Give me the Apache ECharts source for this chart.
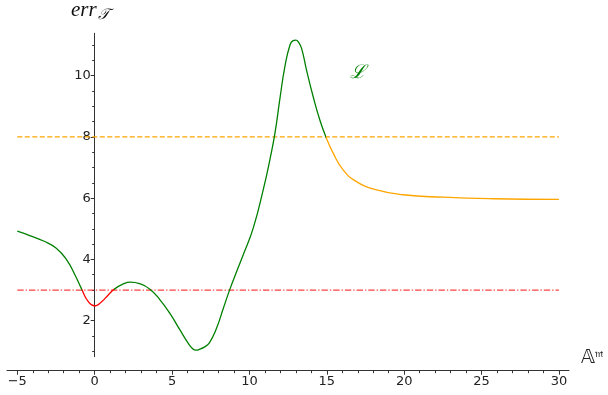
<!DOCTYPE html>
<html><head><meta charset="utf-8">
<script src="https://cdn.jsdelivr.net/npm/echarts@6/dist/echarts.min.js"></script>
<style>html,body{margin:0;padding:0;background:#fff}#c{width:608px;height:395px}</style>
</head><body><div id="c"></div>
<script>
// curve samples (x, err)
const curveX = [-5, -4.2, -3.3, -2.5, -1.8, -1.27, -0.84, -0.41, 0.0, 0.45, 0.88, 1.27, 1.85, 2.3, 2.9, 3.57, 4.22, 4.86, 5.51, 6.05, 6.3, 6.55, 6.8, 7.05, 7.4, 7.88, 8.31, 8.74, 9.17, 9.6, 10.25, 10.89, 11.32, 11.65, 11.97, 12.29, 12.62, 12.82, 13.0, 13.18, 13.37, 13.69, 14.12, 14.55, 14.94, 15.41, 16.06, 16.92, 18.22, 19.93, 22.52, 25.75, 30];
const curveY = [4.92, 4.78, 4.6, 4.37, 3.98, 3.49, 3.03, 2.62, 2.48, 2.62, 2.84, 3.03, 3.2, 3.26, 3.21, 3.03, 2.68, 2.24, 1.70, 1.26, 1.1, 1.04, 1.07, 1.13, 1.27, 1.76, 2.4, 3.03, 3.6, 4.15, 5.03, 6.27, 7.25, 8.12, 9.25, 10.29, 11.0, 11.14, 11.16, 11.08, 10.89, 10.18, 9.31, 8.55, 8.0, 7.47, 6.92, 6.54, 6.27, 6.11, 6.03, 5.98, 5.96];
// colour segment boundaries along x
const redStart = -0.84, redEnd = 1.27, orangeStart = 14.94;
// reference levels
const upperLevel = 8, lowerLevel = 3;
const levelX = [-5, 30];
// ticks
const xMajor = [-5, 0, 5, 10, 15, 20, 25, 30];
const xMinor = [-5,-4,-3,-2,-1,0,1,2,3,4,5,6,7,8,9,10,11,12,13,14,15,16,17,18,19,20,21,22,23,24,25,26,27,28,29,30];
const yMajor = [2, 4, 6, 8, 10];
const yMinor = [1, 1.5, 2, 2.5, 3, 3.5, 4, 4.5, 5, 5.5, 6, 6.5, 7, 7.5, 8, 8.5, 9, 9.5, 10, 10.5, 11];

const curve = curveX.map((x, i) => [x, curveY[i]]);
const fmt = v => (v < 0 ? '\u2212' + Math.abs(v) : String(v));
const axisCol = '#333';
const X_MIN = -5.665, X_MAX = 30.65, Y_MIN = 0.825, Y_MAX = 11.38;
const G_LEFT = 7, G_RIGHT = 39, G_TOP = 33.3, G_BOTTOM = 38.3, W = 608;
const yAxisPx = G_LEFT + (0 - X_MIN) / (X_MAX - X_MIN) * (W - G_LEFT - G_RIGHT);

const chart = echarts.init(document.getElementById('c'), null, {renderer: 'canvas'});
chart.setOption({
  animation: false,
  grid: [
    {left: G_LEFT, right: G_RIGHT, top: G_TOP, bottom: G_BOTTOM, containLabel: false, outerBoundsMode: 'none'},
    {left: yAxisPx, width: 50, top: G_TOP, bottom: G_BOTTOM, containLabel: false, outerBoundsMode: 'none'}
  ],
  xAxis: [
    {gridIndex: 0, type: 'value', min: X_MIN, max: X_MAX, position: 'bottom', offset: 14,
     axisLine: {onZero: false, lineStyle: {color: axisCol, width: 1}},
     axisTick: {show: true, customValues: xMajor, length: 4, lineStyle: {color: axisCol}},
     axisLabel: {customValues: xMajor, formatter: fmt, color: '#222', fontSize: 13, fontFamily: 'DejaVu Sans', margin: 4},
     splitLine: {show: false}},
    {gridIndex: 0, type: 'value', min: X_MIN, max: X_MAX, position: 'bottom', offset: 14,
     axisLine: {show: false, onZero: false},
     axisTick: {show: true, customValues: xMinor, length: 2.5, lineStyle: {color: axisCol}},
     axisLabel: {show: false}, splitLine: {show: false}},
    {gridIndex: 1, type: 'value', min: 0, max: 1, show: false}
  ],
  yAxis: [
    {gridIndex: 0, type: 'value', min: Y_MIN, max: Y_MAX, show: false},
    {gridIndex: 1, type: 'value', min: Y_MIN, max: Y_MAX, position: 'left',
     axisLine: {show: true, onZero: false, lineStyle: {color: axisCol, width: 1}},
     axisTick: {show: true, customValues: yMajor, length: 4, lineStyle: {color: axisCol}},
     axisLabel: {customValues: yMajor, color: '#222', fontSize: 13, fontFamily: 'DejaVu Sans', margin: 4},
     splitLine: {show: false}},
    {gridIndex: 1, type: 'value', min: Y_MIN, max: Y_MAX, position: 'left',
     axisLine: {show: false, onZero: false},
     axisTick: {show: true, customValues: yMinor, length: 2.5, lineStyle: {color: axisCol}},
     axisLabel: {show: false}, splitLine: {show: false}}
  ],
  visualMap: {
    show: false, type: 'piecewise', dimension: 0, seriesIndex: 0,
    pieces: [
      {lt: redStart, color: '#008000'},
      {gte: redStart, lt: redEnd, color: '#ff0000'},
      {gte: redEnd, lt: orangeStart, color: '#008000'},
      {gte: orangeStart, color: '#ffa500'}
    ]
  },
  series: [
    {type: 'line', data: curve, xAxisIndex: 0, yAxisIndex: 0, showSymbol: false, symbol: 'none',
     smooth: 0.5, lineStyle: {width: 1.3}, z: 5},
    {type: 'line', data: levelX.map(x => [x, upperLevel]), xAxisIndex: 0, yAxisIndex: 0, symbol: 'none',
     lineStyle: {color: '#ffa500', width: 1.3, type: [5, 2.5]}, z: 3},
    {type: 'line', data: levelX.map(x => [x, lowerLevel]), xAxisIndex: 0, yAxisIndex: 0, symbol: 'none',
     lineStyle: {color: 'rgba(255,0,0,0.75)', width: 1.3, type: [6.4, 2, 1.3, 2]}, z: 3}
  ],
  graphic: [
    {type: 'text', left: 71, top: 0, style: {
      text: '{a|err}{s|\uD835\uDCAF}', rich: {
        a: {fontFamily: 'Liberation Serif', fontStyle: 'italic', fontSize: 21, fill: '#111'},
        s: {fontFamily: 'DejaVu Sans', fontStyle: 'italic', fontSize: 15, fill: '#111', verticalAlign: 'bottom', padding: [9, 0, 0, 1]}
      }}},
    {type: 'text', left: 350, top: 64, style: {text: '\u2112', fontFamily: 'DejaVu Serif', fontStyle: 'italic', fontSize: 19, fill: '#008000'}},
    {type: 'text', left: 581, top: 349, style: {
      text: '{a|\uD835\uDD38}{s|\uD835\uDD2A}', rich: {
        a: {fontFamily: 'DejaVu Sans', fontSize: 19, fill: '#222'},
        s: {fontFamily: 'DejaVu Sans', fontSize: 11, fill: '#222', verticalAlign: 'top', padding: [0, 0, 8, 0]}
      }}}
  ]
});
</script></body></html>
